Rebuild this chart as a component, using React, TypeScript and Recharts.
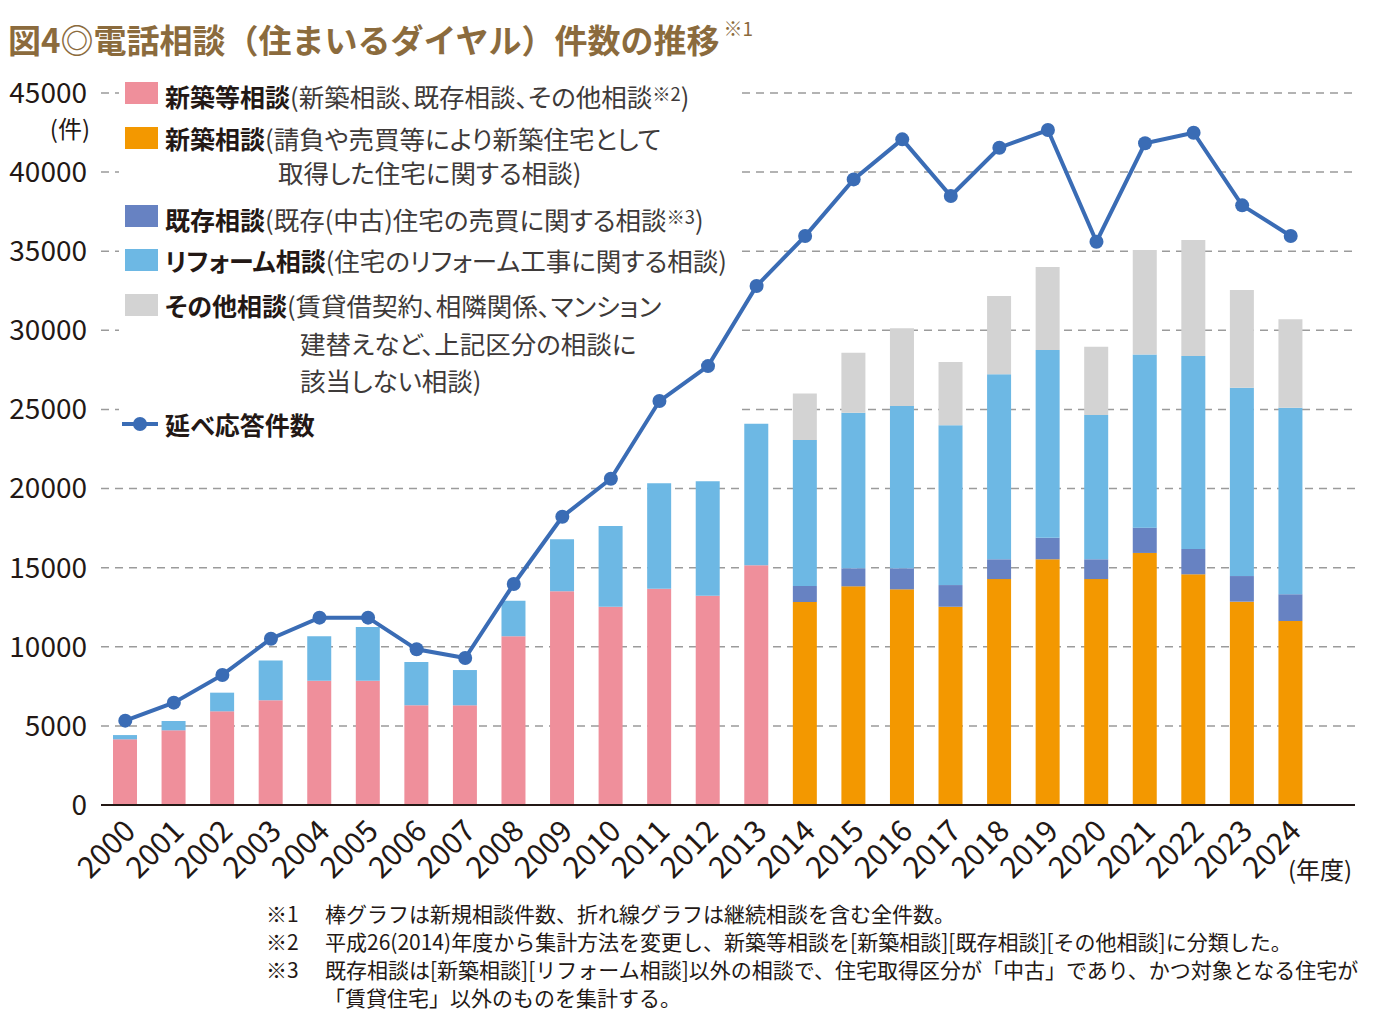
import { ComposedChart, Bar, Line, XAxis, YAxis, CartesianGrid } from "recharts";

const years = [
  "2000", "2001", "2002", "2003", "2004", "2005", "2006", "2007", "2008", "2009", "2010", "2011", "2012",
  "2013", "2014", "2015", "2016", "2017", "2018", "2019", "2020", "2021", "2022", "2023", "2024",
];

// 新築等相談 (〜2013)
const shinchikuTou = [
  4150, 4720, 5920, 6620, 7860, 7860, 6300, 6300, 10660, 13510, 12530, 13670, 13230, 15150,
  null, null, null, null, null, null, null, null, null, null, null,
];
// 新築相談 (2014〜)
const shinchiku = [
  null, null, null, null, null, null, null, null, null, null, null, null, null, null,
  12830, 13820, 13630, 12530, 14280, 15530, 14280, 15930, 14580, 12850, 11630,
];
// 既存相談 (2014〜)
const kizon = [
  null, null, null, null, null, null, null, null, null, null, null, null, null, null,
  1010, 1140, 1330, 1370, 1250, 1360, 1250, 1600, 1600, 1620, 1690,
];
// リフォーム相談
const reform = [
  270, 590, 1180, 2520, 2800, 3390, 2740, 2230, 2250, 3280, 5100, 6660, 7230, 8950,
  9230, 9830, 10260, 10100, 11690, 11870, 9120, 10950, 12200, 11900, 11790,
];
// その他相談 (2014〜)
const sonota = [
  null, null, null, null, null, null, null, null, null, null, null, null, null, null,
  2930, 3800, 4910, 4000, 4950, 5240, 4320, 6600, 7330, 6180, 5590,
];
// 延べ応答件数
const total = [
  5330, 6470, 8220, 10510, 11840, 11840, 9840, 9290, 13970, 18220, 20620, 25530, 27740, 32800,
  35960, 39540, 42070, 38490, 41540, 42660, 35600, 41820, 42490, 37900, 35960,
];

const yTicks = [0, 5000, 10000, 15000, 20000, 25000, 30000, 35000, 40000, 45000];

const data = years.map((y, i) => ({
  year: y,
  shinchikuTou: shinchikuTou[i],
  shinchiku: shinchiku[i],
  kizon: kizon[i],
  reform: reform[i],
  sonota: sonota[i],
  total: total[i],
}));

const FONT = '"Noto Sans CJK JP", "Noto Sans", sans-serif';
const INK = "#231815";
const TEXT = "#3e3a39";

const COLORS = {
  shinchikuTou: "#ef8f9b",
  shinchiku: "#f39800",
  kizon: "#6782c2",
  reform: "#6db8e4",
  sonota: "#d3d3d3",
  line: "#3a6cb5",
};

// legend block hides the grid on the left side
const LEGEND_RIGHT = 742;
const LEGEND_BOTTOM = 445;

const GridLine = (props: any) => {
  const { x1, x2, y1, index } = props;
  const common = { stroke: "#9b9b9b", strokeWidth: 1.5, strokeDasharray: "8 6" };
  if (y1 < LEGEND_BOTTOM) {
    return (
      <g key={`g-${index}`}>
        <line x1={x1} x2={x1 + 18} y1={y1} y2={y1} {...common} />
        <line x1={LEGEND_RIGHT} x2={x2} y1={y1} y2={y1} {...common} />
      </g>
    );
  }
  return <line key={`g-${index}`} x1={x1} x2={x2} y1={y1} y2={y1} {...common} />;
};

const YearTick = ({ x, y, payload }: any) => {
  const ax = x + 12;
  const ay = y + 28;
  return (
    <text
      x={ax}
      y={ay}
      transform={`rotate(-45 ${ax} ${ay})`}
      textAnchor="end"
      fontSize={30}
      fontFamily={FONT}
      fill={INK}
    >
      {payload.value}
    </text>
  );
};

const Swatch = ({ color, top }: { color: string; top: number }) => (
  <div
    style={{ position: "absolute", left: 125, top: top - 11, width: 33, height: 22, background: color }}
  />
);

const Row = ({ left, top, children }: { left: number; top: number; children: any }) => (
  <div
    style={{
      position: "absolute",
      left,
      top: top - 18,
      height: 36,
      lineHeight: "36px",
      whiteSpace: "nowrap",
      fontSize: 25.5,
      color: TEXT,
    }}
  >
    {children}
  </div>
);

const B = ({ children }: { children: any }) => (
  <span style={{ fontWeight: 700, color: INK, fontSize: 25 }}>{children}</span>
);

const Sup = ({ children }: { children: any }) => (
  <span style={{ fontSize: "0.72em", verticalAlign: "0.3em" }}>{children}</span>
);

const notes = [
  ["※1", "棒グラフは新規相談件数、折れ線グラフは継続相談を含む全件数。"],
  ["※2", "平成26(2014)年度から集計方法を変更し、新築等相談を[新築相談][既存相談][その他相談]に分類した。"],
  ["※3", "既存相談は[新築相談][リフォーム相談]以外の相談で、住宅取得区分が「中古」であり、かつ対象となる住宅が"],
  ["", "「賃貸住宅」以外のものを集計する。"],
];

export default function App() {
  return (
    <div
      style={{
        position: "absolute",
        left: 0,
        top: 0,
        width: 1400,
        height: 1027,
        background: "#fff",
        fontFamily: FONT,
        fontFeatureSettings: '"palt"',
        overflow: "hidden",
      }}
    >
      <div
        style={{
          position: "absolute",
          left: 8,
          top: 6,
          fontSize: 33,
          fontWeight: 700,
          color: "#8b6b3d",
          whiteSpace: "nowrap",
          lineHeight: "44px",
          fontFeatureSettings: "normal",
        }}
      >
        図4◎電話相談（住まいるダイヤル）件数の推移
        <span style={{ fontSize: 19, fontWeight: 400, verticalAlign: "0.9em", marginLeft: 4 }}>※1</span>
      </div>

      <div style={{ position: "absolute", left: 0, top: 0 }}>
        <ComposedChart
          width={1400}
          height={900}
          data={data}
          margin={{ top: 93, right: 45, left: 0, bottom: 15 }}
          barSize={24}
        >
          <CartesianGrid vertical={false} horizontal={GridLine as any} />
          <XAxis
            dataKey="year"
            height={80}
            padding={{ left: 0, right: 40 }}
            tickLine={false}
            tickSize={0}
            tickMargin={0}
            interval={0}
            axisLine={{ stroke: INK, strokeWidth: 2 }}
            tick={<YearTick />}
          />
          <YAxis
            width={101}
            domain={[0, 45000]}
            ticks={yTicks}
            interval={0}
            axisLine={false}
            tickLine={false}
            tickSize={0}
            tickMargin={14}
            tick={{ fontSize: 28, fill: INK, fontFamily: FONT }}
          />
          <Bar dataKey="shinchikuTou" stackId="a" fill={COLORS.shinchikuTou} isAnimationActive={false} />
          <Bar dataKey="shinchiku" stackId="a" fill={COLORS.shinchiku} isAnimationActive={false} />
          <Bar dataKey="kizon" stackId="a" fill={COLORS.kizon} isAnimationActive={false} />
          <Bar dataKey="reform" stackId="a" fill={COLORS.reform} isAnimationActive={false} />
          <Bar dataKey="sonota" stackId="a" fill={COLORS.sonota} isAnimationActive={false} />
          <Line
            dataKey="total"
            type="linear"
            stroke={COLORS.line}
            strokeWidth={4}
            dot={{ r: 7, fill: COLORS.line, stroke: "none" }}
            activeDot={false}
            isAnimationActive={false}
          />
        </ComposedChart>
      </div>

      <div
        style={{
          position: "absolute",
          right: 1400 - 90,
          top: 116,
          fontSize: 24,
          color: INK,
          lineHeight: "24px",
        }}
      >
        (件)
      </div>

      {/* legend */}
      <Swatch color={COLORS.shinchikuTou} top={93} />
      <Row left={165} top={93}>
        <B>新築等相談</B>(新築相談、既存相談、その他相談<Sup>※2</Sup>)
      </Row>
      <Swatch color={COLORS.shinchiku} top={138} />
      <Row left={165} top={138}>
        <B>新築相談</B>(請負や売買等により新築住宅として
      </Row>
      <Row left={278} top={172}>
        取得した住宅に関する相談)
      </Row>
      <Swatch color={COLORS.kizon} top={216} />
      <Row left={165} top={216}>
        <B>既存相談</B>(既存(中古)住宅の売買に関する相談<Sup>※3</Sup>)
      </Row>
      <Swatch color={COLORS.reform} top={260} />
      <Row left={165} top={260}>
        <B>リフォーム相談</B>(住宅のリフォーム工事に関する相談)
      </Row>
      <Swatch color={COLORS.sonota} top={305} />
      <Row left={165} top={305}>
        <B>その他相談</B>(賃貸借契約、相隣関係、マンション
      </Row>
      <Row left={300} top={343}>
        建替えなど、上記区分の相談に
      </Row>
      <Row left={300} top={380}>
        該当しない相談)
      </Row>
      <svg style={{ position: "absolute", left: 118, top: 410 }} width={44} height={28}>
        <line x1={4} x2={40} y1={14} y2={14} stroke={COLORS.line} strokeWidth={4} />
        <circle cx={22} cy={14} r={7} fill={COLORS.line} />
      </svg>
      <Row left={165} top={424}>
        <B>延べ応答件数</B>
      </Row>

      <div
        style={{
          position: "absolute",
          left: 1288,
          top: 852,
          fontSize: 24,
          color: INK,
          lineHeight: "34px",
        }}
      >
        (年度)
      </div>

      {/* footnotes */}
      {notes.map(([mark, text], i) => (
        <div key={i} style={{ fontFeatureSettings: "normal" }}>
          <div
            style={{
              position: "absolute",
              left: 266,
              top: 913 + i * 28 - 14,
              fontSize: 21,
              lineHeight: "28px",
              color: INK,
            }}
          >
            {mark}
          </div>
          <div
            style={{
              position: "absolute",
              left: i === 3 ? 324 : 325,
              top: 913 + i * 28 - 14,
              fontSize: 21,
              lineHeight: "28px",
              color: INK,
              whiteSpace: "nowrap",
            }}
          >
            {text}
          </div>
        </div>
      ))}
    </div>
  );
}
